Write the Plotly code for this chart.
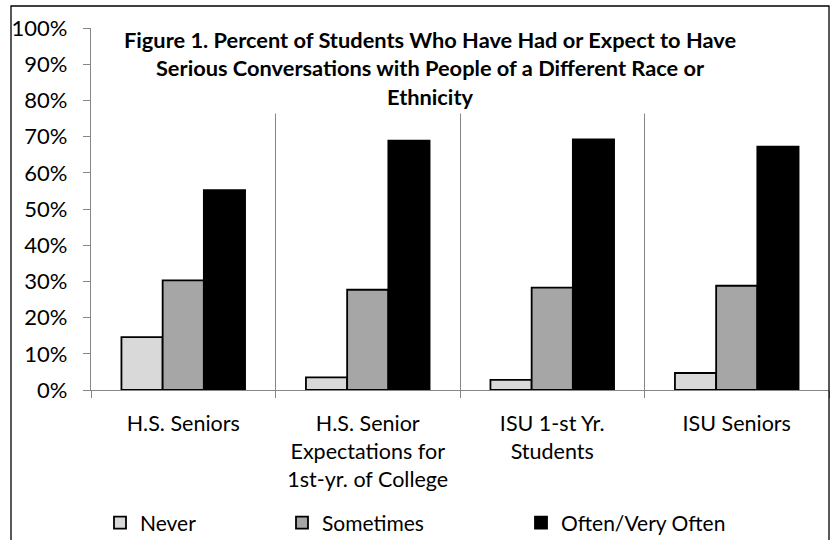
import plotly.graph_objects as go

categories = ["H.S. Seniors", "H.S. Senior<br>Expectations for<br>1st-yr. of College",
              "ISU 1-st Yr.<br>Students", "ISU Seniors"]
series_names = ["Never", "Sometimes", "Often/Very Often"]
never = [0.146, 0.035, 0.028, 0.047]
sometimes = [0.303, 0.277, 0.283, 0.288]
often = [0.552, 0.689, 0.692, 0.672]
colors = ["#D9D9D9", "#A6A6A6", "#000000"]
y_ticks = [i / 10 for i in range(11)]

FONT = "Lato"
W, H = 830, 540
ML, MR, MT, MB = 91, 1, 28, 150
PW, PH = W - ML - MR, H - MT - MB

def px_x(p):
    return (p - ML) / PW

def px_y(p):
    return (H - MB - p) / PH

fig = go.Figure()
xs = list(range(len(categories)))
legend_ids = ["legend", "legend2", "legend3"]
for name, vals, col, lg in zip(series_names, [never, sometimes, often], colors, legend_ids):
    fig.add_trace(go.Bar(x=xs, y=vals, name=name,
                         marker=dict(color=col, line=dict(color="#000000", width=1.8)),
                         legend=lg))

grey = "#868686"
leg_common = dict(orientation="h", xanchor="left", yanchor="middle",
                  bgcolor="rgba(0,0,0,0)", font=dict(size=21))
fig.update_layout(
    width=W, height=H,
    margin=dict(l=ML, r=MR, t=MT, b=MB, autoexpand=False),
    paper_bgcolor="white", plot_bgcolor="white",
    font=dict(family=FONT, size=21.5, color="#000000"),
    barmode="group", bargap=0.33, bargroupgap=0,
    xaxis=dict(range=[-0.5, 3.5], tickvals=xs, ticktext=categories, ticks="", showgrid=False,
               showline=True, linecolor=grey, linewidth=1.3, zeroline=False,
               ticklabelstandoff=14, tickfont=dict(size=21.5),
               minor=dict(tick0=0.5, dtick=1, showgrid=True, gridcolor=grey, gridwidth=1.3,
                          ticks="outside", ticklen=7, tickcolor=grey, tickwidth=1.3),
               fixedrange=True),
    yaxis=dict(range=[0, 1], tickvals=y_ticks, tickformat=".0%", showgrid=False, zeroline=False,
               showline=True, linecolor=grey, linewidth=1.3, ticks="outside", ticklen=7,
               tickcolor=grey, tickwidth=1.3, ticklabelstandoff=11, tickfont=dict(size=22),
               fixedrange=True),
    showlegend=True,
    legend=dict(x=px_x(100), y=px_y(523), **leg_common),
    legend2=dict(x=px_x(282), y=px_y(523), **leg_common),
    legend3=dict(x=px_x(521), y=px_y(523), **leg_common),
)

fig.add_annotation(
    text="Figure 1. Percent of Students Who Have Had or Expect to Have<br>"
         "Serious Conversations with People of a Different Race or<br>Ethnicity",
    xref="paper", yref="paper", x=px_x(430), y=px_y(68), xanchor="center", yanchor="middle",
    showarrow=False, align="center", bgcolor="white", borderpad=3,
    font=dict(family=FONT, size=21.8, color="#000000", weight="bold"),
)

fig.add_shape(type="rect", xref="paper", yref="paper",
              x0=px_x(11), x1=px_x(829), y0=px_y(6), y1=px_y(570),
              line=dict(color="#000000", width=1.3), fillcolor="rgba(0,0,0,0)", layer="above")

fig.write_html("out.html", config={"displayModeBar": False})
